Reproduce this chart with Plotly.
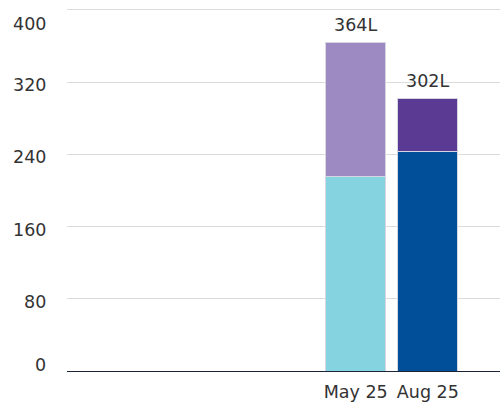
import plotly.graph_objects as go

categories = ["May 25", "Aug 25"]
bottom_values = [215, 243]
top_values = [149, 59]
totals = [364, 302]
total_labels = ["364L", "302L"]
bottom_colors = ["#85D2E0", "#004F98"]
top_colors = ["#9E8AC2", "#5B3A93"]
y_ticks = [0, 80, 160, 240, 320, 400]

FONT = "DejaVu Sans"
FS = 17.5
TXT = "#333333"
fig = go.Figure()
fig.add_trace(go.Bar(x=categories, y=bottom_values, marker=dict(color=bottom_colors, line=dict(color="#d6d6e2", width=1)), hoverinfo="skip"))
fig.add_trace(go.Bar(x=categories, y=top_values, marker=dict(color=top_colors, line=dict(color="#d6d6e2", width=1)), hoverinfo="skip"))
for c, t, lab in zip(categories, totals, total_labels):
    fig.add_annotation(x=c, y=t, text=lab, showarrow=False, yanchor="bottom", yshift=5,
                       font=dict(family=FONT, size=FS, color=TXT))

# y tick labels drawn as annotations so the end labels stay inside the plot area
for v in y_ticks:
    if v == max(y_ticks):
        shift = -14
    elif v == min(y_ticks):
        shift = 6
    else:
        shift = -3
    fig.add_annotation(x=0, xref="paper", y=v, yref="y", text=str(v), showarrow=False,
                       xanchor="right", yanchor="middle", xshift=-19, yshift=shift,
                       font=dict(family=FONT, size=FS, color=TXT))

fig.update_layout(
    barmode="stack",
    bargap=0.167,
    width=502, height=403,
    margin=dict(l=67, r=2, t=7, b=32),
    paper_bgcolor="white", plot_bgcolor="white",
    showlegend=False,
    font=dict(family=FONT, size=FS, color=TXT),
)
fig.update_xaxes(type="category", categoryarray=categories, range=[-4, 2], showgrid=False, automargin=False,
                 showline=True, linecolor="#1c2438", linewidth=1, ticks="", ticklabelstandoff=5,
                 tickfont=dict(family=FONT, size=FS, color=TXT))
fig.update_yaxes(range=[0, 403.3], tickvals=y_ticks, showgrid=True, gridcolor="#dcdcdc", gridwidth=1, automargin=False,
                 zeroline=False, showline=False, ticks="", showticklabels=False)
fig.write_html("out.html", config={"displayModeBar": False},
               post_script="document.body.style.margin='0px';document.body.style.overflow='hidden';")
